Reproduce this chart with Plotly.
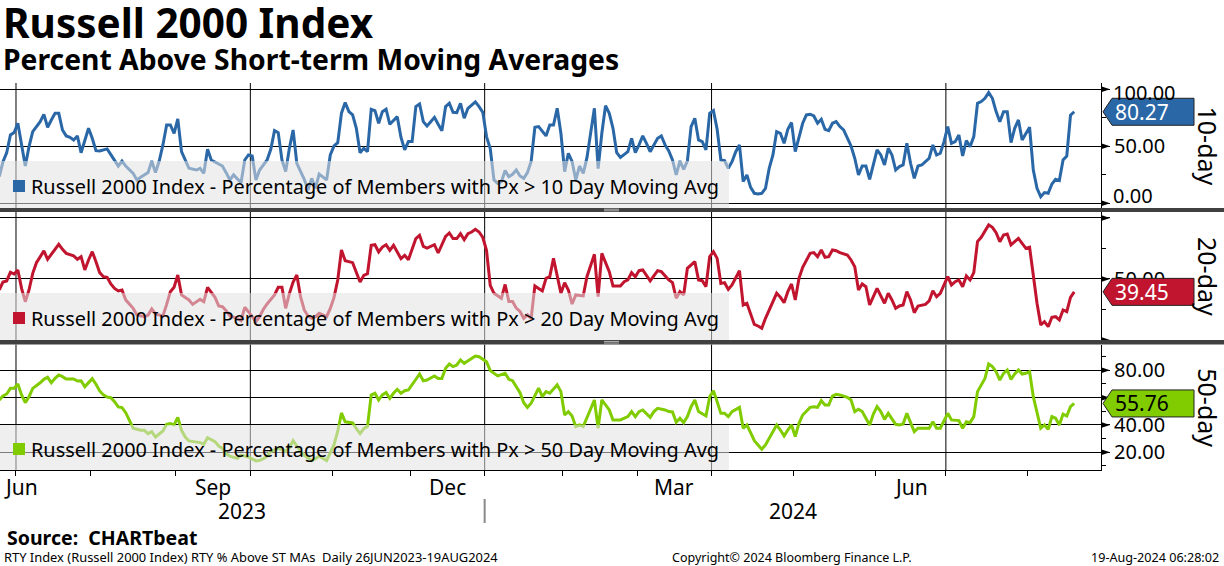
import pandas as pd
import plotly.graph_objects as go

# ---------------- data ----------------
HOLIDAYS = ["2023-07-04", "2023-09-04", "2023-11-23", "2023-12-25", "2024-01-01",
            "2024-01-15", "2024-02-19", "2024-03-29", "2024-05-27", "2024-06-19", "2024-07-04"]
sessions = pd.bdate_range("2023-06-26", "2024-08-30", freq="C", holidays=HOLIDAYS)

# trading-session number (0 = 26-Jun-2023) and percent of members above the MA
ma10_session = [0, 1, 2, 3, 4, 5, 7, 8, 9, 11, 12, 13, 14, 15, 16, 17, 18, 19, 20, 21, 22, 23, 24, 25, 26, 27, 29, 30, 31, 32, 33, 34, 36, 37, 38, 39, 40, 41, 42, 43, 44, 45, 46, 47, 48, 49, 50, 51, 53, 54, 55, 56, 57, 59, 60, 61, 62, 63, 65, 66, 67, 68, 69, 70, 72, 73, 74, 75, 76, 77, 78, 79, 80, 82, 83, 84, 85, 86, 88, 89, 90, 91, 92, 93, 94, 95, 96, 97, 98, 99, 100, 101, 102, 103, 104, 105, 106, 107, 108, 109, 110, 111, 112, 113, 114, 115, 116, 117, 118, 119, 120, 121, 122, 123, 124, 125, 126, 127, 128, 129, 130, 131, 132, 133, 134, 135, 136, 137, 138, 139, 140, 141, 142, 143, 144, 145, 147, 148, 149, 150, 151, 152, 153, 154, 155, 156, 157, 158, 159, 160, 161, 162, 163, 164, 165, 166, 167, 168, 169, 170, 171, 172, 173, 174, 175, 176, 177, 178, 179, 180, 181, 182, 183, 184, 185, 186, 187, 188, 189, 190, 191, 192, 193, 194, 195, 196, 197, 198, 199, 200, 201, 202, 203, 204, 205, 206, 207, 208, 209, 210, 211, 212, 213, 214, 215, 216, 217, 218, 219, 220, 221, 222, 223, 224, 225, 226, 227, 228, 229, 230, 231, 232, 233, 234, 235, 236, 237, 238, 239, 240, 241, 242, 243, 244, 245, 246, 247, 248, 249, 250, 251, 252, 253, 254, 255, 256, 257, 258, 259, 260, 261, 262, 263, 264, 265, 266, 267, 268, 269, 270, 271, 272, 273, 274, 275, 276, 277, 278, 279, 280, 281, 282, 283, 284, 285, 286, 287, 288, 289]
ma10_pct = [23.4, 36.5, 44.4, 59.9, 62.0, 70.2, 32.7, 49.7, 62.9, 71.6, 78.0, 66.7, 73.1, 78.9, 78.9, 64.3, 59.1, 57.9, 55.6, 59.1, 44.4, 54.1, 65.8, 57.0, 46.2, 45.9, 47.7, 42.7, 37.7, 32.7, 37.1, 32.7, 26.3, 20.5, 22.8, 24.9, 26.9, 37.1, 26.9, 37.1, 51.2, 68.7, 68.7, 61.4, 74.0, 45.3, 38.0, 30.7, 29.2, 30.7, 26.3, 47.4, 38.0, 34.5, 32.7, 26.9, 20.5, 24.9, 18.1, 38.0, 42.4, 41.5, 20.5, 29.2, 38.0, 47.4, 63.7, 61.9, 38.0, 27.8, 48.2, 64.3, 35.1, 21.0, 11.7, 21.9, 13.2, 25.7, 20.5, 42.4, 50.3, 53.2, 79.0, 88.3, 80.4, 77.5, 65.8, 44.4, 48.2, 45.3, 82.5, 81.3, 70.2, 80.4, 82.5, 69.3, 73.1, 76.0, 57.9, 46.8, 54.1, 54.1, 84.8, 87.1, 71.6, 67.8, 71.6, 75.4, 69.3, 63.7, 84.8, 87.7, 79.8, 79.5, 87.7, 74.6, 83.3, 86.3, 88.9, 84.8, 79.8, 58.5, 48.0, 20.5, 17.5, 19.0, 28.7, 23.4, 25.4, 29.2, 24.0, 21.9, 26.9, 36.8, 66.7, 67.3, 59.1, 68.7, 68.7, 83.3, 61.4, 27.8, 43.9, 36.8, 20.5, 32.7, 26.3, 40.0, 62.9, 83.3, 30.4, 61.4, 85.7, 78.9, 65.8, 44.4, 40.2, 42.4, 45.3, 57.0, 44.4, 51.2, 59.1, 52.6, 45.3, 51.2, 57.0, 59.1, 51.2, 45.9, 38.0, 24.9, 37.1, 29.8, 37.1, 67.3, 74.6, 55.6, 54.1, 46.8, 78.9, 81.3, 64.9, 38.0, 37.4, 30.7, 36.5, 45.3, 51.2, 19.0, 24.9, 14.0, 8.8, 8.2, 8.8, 13.2, 30.7, 42.4, 62.9, 61.4, 52.6, 64.9, 70.8, 45.3, 58.5, 70.2, 77.5, 78.1, 76.6, 70.2, 73.7, 64.9, 63.7, 70.2, 71.6, 67.3, 64.3, 57.0, 50.3, 39.5, 24.9, 32.7, 32.7, 21.0, 33.6, 46.8, 42.4, 33.6, 48.2, 42.4, 29.2, 32.2, 33.6, 52.6, 35.1, 21.9, 32.7, 33.6, 36.5, 39.5, 51.2, 42.4, 43.9, 54.1, 67.3, 52.6, 54.1, 59.9, 41.5, 55.0, 49.7, 58.5, 87.7, 89.2, 92.1, 97.1, 92.1, 80.4, 71.6, 80.4, 80.4, 53.2, 65.8, 73.1, 55.6, 60.8, 66.7, 29.2, 13.2, 5.8, 9.4, 8.8, 16.9, 21.0, 19.9, 38.0, 41.5, 77.2, 80.27]

ma20_session = [0, 1, 2, 3, 4, 5, 6, 7, 8, 9, 10, 12, 13, 15, 16, 17, 18, 20, 21, 22, 23, 24, 25, 26, 27, 28, 29, 30, 31, 32, 33, 34, 36, 37, 38, 39, 40, 41, 42, 44, 45, 46, 47, 48, 49, 51, 52, 53, 54, 55, 56, 58, 59, 60, 61, 62, 64, 65, 66, 67, 69, 70, 71, 72, 74, 75, 76, 77, 78, 79, 80, 81, 82, 83, 84, 85, 86, 88, 89, 90, 91, 92, 93, 95, 96, 97, 98, 99, 100, 101, 102, 103, 104, 105, 106, 107, 108, 109, 110, 112, 113, 114, 115, 117, 118, 120, 121, 122, 123, 124, 125, 126, 127, 128, 129, 130, 131, 132, 133, 135, 136, 137, 138, 139, 140, 141, 142, 143, 144, 145, 146, 147, 148, 149, 151, 152, 153, 154, 155, 157, 158, 160, 161, 162, 164, 165, 167, 168, 169, 170, 171, 172, 173, 175, 177, 178, 179, 180, 181, 182, 183, 184, 185, 187, 188, 189, 190, 191, 192, 193, 194, 195, 196, 197, 199, 200, 201, 202, 203, 204, 205, 206, 207, 209, 210, 211, 212, 213, 214, 215, 216, 218, 219, 220, 221, 222, 223, 224, 225, 226, 228, 229, 230, 231, 232, 233, 234, 235, 236, 237, 238, 239, 240, 241, 242, 243, 244, 245, 246, 247, 249, 250, 251, 252, 253, 254, 255, 256, 257, 258, 259, 260, 261, 262, 263, 264, 265, 266, 267, 268, 269, 270, 271, 272, 273, 274, 275, 276, 277, 278, 279, 280, 281, 282, 283, 284, 285, 286, 287, 288, 289]
ma20_pct = [41.0, 47.5, 48.4, 55.5, 54.1, 57.4, 42.3, 31.4, 41.0, 54.6, 63.4, 73.0, 66.1, 73.8, 78.4, 74.3, 71.0, 68.9, 66.1, 68.3, 57.4, 65.6, 72.4, 64.2, 55.2, 51.9, 51.4, 45.9, 42.3, 40.2, 41.0, 32.9, 26.0, 20.5, 19.7, 19.1, 20.5, 25.4, 21.4, 19.7, 29.2, 39.6, 43.3, 53.3, 36.9, 32.8, 29.2, 31.4, 33.3, 31.4, 43.2, 35.0, 27.9, 27.3, 24.0, 19.7, 17.8, 15.8, 26.8, 23.2, 15.0, 19.1, 25.1, 29.5, 36.9, 43.2, 43.2, 26.0, 38.0, 47.5, 53.3, 35.5, 24.6, 19.7, 17.8, 19.1, 21.9, 19.1, 25.9, 34.9, 49.2, 73.8, 65.0, 63.4, 54.6, 47.5, 53.0, 54.4, 77.6, 78.1, 72.1, 76.2, 78.1, 73.5, 77.6, 72.1, 66.7, 69.4, 65.8, 83.1, 85.8, 76.8, 75.4, 78.1, 71.3, 84.9, 87.7, 83.1, 83.1, 87.2, 82.2, 87.2, 88.5, 90.7, 88.5, 84.0, 73.5, 44.8, 38.3, 34.2, 45.5, 31.6, 31.6, 26.1, 23.4, 17.8, 20.6, 17.8, 44.3, 42.3, 40.2, 50.5, 51.9, 66.9, 38.3, 47.0, 41.0, 29.5, 36.9, 36.1, 51.9, 70.2, 35.5, 71.0, 56.0, 44.3, 44.3, 47.8, 49.2, 55.2, 51.9, 56.8, 57.4, 48.4, 56.8, 56.0, 52.5, 49.2, 47.0, 34.2, 39.6, 36.9, 58.7, 64.2, 49.2, 48.6, 43.7, 68.3, 72.4, 66.9, 46.4, 47.0, 41.5, 45.1, 56.8, 28.7, 30.1, 20.5, 12.8, 11.5, 9.6, 17.8, 24.6, 38.3, 35.0, 30.6, 39.6, 45.9, 32.8, 50.5, 59.6, 71.0, 71.6, 68.3, 73.8, 67.8, 68.3, 73.8, 73.2, 71.6, 69.7, 65.6, 60.1, 41.0, 45.9, 43.7, 28.7, 35.5, 42.3, 36.1, 30.1, 38.3, 32.8, 26.0, 27.9, 28.7, 39.6, 32.8, 22.4, 27.9, 29.2, 32.0, 40.4, 35.5, 38.3, 45.1, 51.9, 45.1, 47.8, 49.2, 43.7, 52.5, 49.2, 55.2, 80.6, 84.2, 88.8, 94.3, 92.3, 88.0, 80.6, 86.1, 86.9, 77.9, 80.6, 83.3, 79.2, 75.1, 76.0, 51.9, 30.1, 12.3, 15.0, 10.9, 18.6, 19.1, 16.4, 24.6, 23.2, 35.0, 39.45]

ma50_session = [0, 1, 2, 3, 4, 5, 6, 7, 8, 9, 11, 12, 13, 14, 15, 16, 17, 18, 20, 21, 22, 23, 24, 25, 26, 27, 28, 29, 30, 31, 32, 33, 34, 35, 36, 38, 39, 40, 41, 42, 43, 44, 45, 46, 47, 48, 49, 50, 51, 52, 54, 55, 56, 58, 59, 60, 61, 62, 63, 64, 65, 66, 67, 69, 70, 71, 72, 73, 75, 76, 77, 78, 79, 81, 82, 83, 84, 85, 86, 88, 89, 90, 91, 92, 93, 95, 96, 97, 98, 99, 100, 101, 102, 103, 104, 105, 106, 107, 108, 109, 110, 112, 113, 114, 115, 117, 118, 119, 120, 121, 122, 123, 124, 125, 126, 127, 128, 129, 130, 131, 132, 133, 134, 136, 137, 138, 139, 140, 141, 142, 143, 144, 145, 146, 147, 148, 150, 151, 152, 153, 154, 155, 156, 157, 158, 160, 161, 162, 164, 165, 167, 168, 169, 170, 171, 172, 173, 175, 176, 177, 179, 180, 181, 182, 183, 184, 185, 186, 187, 188, 189, 190, 191, 192, 193, 194, 195, 196, 197, 199, 200, 201, 202, 203, 204, 205, 206, 207, 209, 210, 211, 212, 213, 214, 215, 216, 218, 219, 220, 221, 222, 223, 224, 225, 226, 228, 229, 230, 231, 232, 234, 235, 236, 237, 238, 239, 240, 241, 242, 243, 244, 245, 246, 247, 249, 250, 251, 252, 253, 254, 255, 256, 257, 258, 259, 260, 261, 262, 263, 264, 265, 266, 267, 268, 269, 270, 271, 272, 273, 274, 275, 276, 277, 278, 280, 281, 282, 283, 284, 285, 286, 287, 288, 289]
ma50_pct = [58.3, 61.2, 62.7, 66.8, 66.8, 70.0, 62.0, 56.3, 60.7, 66.8, 70.9, 73.4, 74.9, 70.9, 74.1, 76.6, 75.4, 73.7, 73.7, 72.2, 72.4, 68.0, 71.0, 73.9, 69.8, 64.9, 62.0, 60.5, 60.0, 57.1, 53.2, 52.7, 49.0, 43.4, 37.6, 36.1, 36.1, 33.7, 35.1, 31.2, 33.2, 35.6, 40.5, 41.0, 40.0, 45.6, 36.1, 31.2, 28.3, 27.8, 27.1, 25.9, 30.7, 27.8, 24.6, 22.9, 18.9, 17.2, 16.5, 15.6, 18.0, 17.3, 16.6, 13.7, 14.1, 15.4, 17.1, 20.7, 22.7, 22.0, 20.7, 23.2, 28.5, 20.7, 17.8, 15.9, 13.9, 15.4, 17.1, 13.9, 19.5, 25.6, 35.4, 48.8, 42.3, 41.5, 37.3, 33.7, 37.3, 39.0, 62.0, 63.2, 58.3, 62.0, 63.7, 59.5, 63.2, 66.1, 63.2, 65.1, 65.6, 73.9, 77.3, 72.4, 72.9, 75.9, 74.1, 74.1, 81.5, 84.6, 82.7, 83.9, 87.6, 85.1, 87.1, 88.8, 90.5, 90.0, 88.3, 86.3, 79.8, 77.8, 75.9, 77.8, 73.4, 72.4, 68.5, 63.7, 56.3, 52.9, 55.9, 62.0, 67.0, 60.7, 64.4, 63.2, 69.3, 64.4, 47.3, 49.8, 46.6, 38.8, 40.0, 38.8, 44.9, 58.3, 37.6, 58.3, 51.0, 43.7, 43.7, 44.9, 46.1, 49.8, 46.1, 49.8, 51.0, 45.6, 49.8, 52.2, 51.0, 49.8, 49.5, 42.0, 44.9, 41.7, 46.1, 53.4, 58.3, 49.8, 48.5, 46.6, 60.7, 65.1, 57.1, 48.5, 48.5, 46.1, 49.8, 52.9, 37.6, 40.0, 34.4, 28.5, 25.4, 22.2, 25.4, 30.2, 40.0, 36.3, 32.0, 36.3, 40.0, 31.5, 41.2, 47.3, 52.9, 53.4, 52.9, 57.8, 54.6, 54.6, 61.2, 62.4, 62.0, 60.2, 58.3, 49.8, 51.5, 49.8, 40.0, 48.0, 53.4, 49.8, 44.1, 48.5, 44.9, 40.5, 40.0, 40.7, 48.5, 42.4, 35.1, 37.6, 37.6, 37.6, 42.4, 37.6, 37.6, 43.7, 48.5, 43.7, 43.7, 43.2, 37.6, 42.4, 41.7, 46.1, 64.4, 69.3, 74.1, 84.6, 82.7, 79.0, 72.9, 77.8, 80.2, 73.4, 77.3, 80.2, 77.3, 77.8, 79.0, 60.7, 37.6, 40.0, 36.8, 46.1, 44.9, 40.0, 48.0, 46.6, 53.4, 55.76]

SERIES_NAMES = ["Russell 2000 Index - Percentage of Members with Px &gt; 10 Day Moving Avg",
                "Russell 2000 Index - Percentage of Members with Px &gt; 20 Day Moving Avg",
                "Russell 2000 Index - Percentage of Members with Px &gt; 50 Day Moving Avg"]
PANEL_LABELS = ["10-day", "20-day", "50-day"]
Y_TICKS = [[0, 50, 100], [0, 50, 100], [20, 40, 60, 80]]
Y_MINOR = [[25, 75], [25, 75], [10, 30, 50, 70, 90]]
LABELED_MONTHS = [(2023, 6), (2023, 9), (2023, 12), (2024, 3), (2024, 6)]
MONTH_TEXT = ["Jun", "Sep", "Dec", "Mar", "Jun"]
YEARS = [2023, 2024]

# ---------------- styling / geometry ----------------
FONT = "Noto Sans"
BLUE, RED, GREEN = "#2a67a7", "#c1152f", "#80cc00"
COLORS = [BLUE, RED, GREEN]
TAG_TEXT = ["white", "white", "black"]
W, H = 1224, 566
ML, MR, MT, MB = 0, 123, 83, 96
PW, PH = W - ML - MR, H - MT - MB


def px(x):
    return (x - ML) / PW


def py(y):
    return (H - MB - y) / PH


PANEL_PX = [(83, 208), (212, 340), (344.5, 470)]
Y_RANGES = [[-4.1, 105.5], [0, 104.9], [7.05, 98.9]]
LEGEND_BOX = [(161, 208), (293, 340), (425, 470)]
LEGEND_MID = [186, 318, 449]


def at_session(f):
    k = int(f)
    return sessions[k] + pd.Timedelta(days=f - k)


x_start, x_end = 0.2, 296.2
x_range = [at_session(x_start), at_session(x_end)]
month_bounds, quarter_bounds = [], []
for k in range(len(sessions) - 1):
    if sessions[k].month != sessions[k + 1].month and k + 0.5 < x_end:
        b = sessions[k] + pd.Timedelta(hours=12)
        month_bounds.append(b)
        if sessions[k + 1].month in (1, 4, 7, 10):
            quarter_bounds.append((k + 0.5, b))

rangebreaks = [dict(bounds=["sat", "mon"]), dict(values=HOLIDAYS)]

fig = go.Figure()
series = [(ma10_session, ma10_pct), (ma20_session, ma20_pct), (ma50_session, ma50_pct)]
for n, (ses, vals) in enumerate(series):
    ax = "" if n == 0 else str(n + 1)
    fig.add_trace(go.Scatter(x=[sessions[s] for s in ses], y=vals, mode="lines",
                             line=dict(color=COLORS[n], width=3), xaxis="x" + ax, yaxis="y" + ax,
                             hoverinfo="skip", showlegend=False))

layout = dict(width=W, height=H, margin=dict(l=ML, r=MR, t=MT, b=MB),
              paper_bgcolor="white", plot_bgcolor="white", showlegend=False,
              hovermode=False, font=dict(family=FONT, color="black"))
for n in range(3):
    ax = "" if n == 0 else str(n + 1)
    top, bot = PANEL_PX[n]
    layout["xaxis" + ax] = dict(domain=[0, 1], anchor="y" + ax, type="date", range=x_range,
                                rangebreaks=rangebreaks, showgrid=False, zeroline=False,
                                showticklabels=False,
                                matches=None if n == 2 else "x3",
                                showline=(n == 2), linecolor="black", linewidth=1,
                                ticks="outside" if n == 2 else "", ticklen=5, tickcolor="black",
                                tickmode="array", tickvals=month_bounds)
    layout["yaxis" + ax] = dict(domain=[py(bot), py(top)], anchor="x" + ax, range=Y_RANGES[n],
                                side="right", showline=True, linecolor="black", linewidth=1,
                                ticks="outside", ticklen=8, tickcolor="black",
                                tickmode="array", tickvals=Y_TICKS[n],
                                ticktext=["" if (n < 2 and v != 50) else f"{v:.2f}" for v in Y_TICKS[n]],
                                tickfont=dict(size=20, family=FONT, color="black"),
                                showgrid=True, gridcolor="black", gridwidth=1, zeroline=False,
                                minor=dict(tickmode="array", tickvals=Y_MINOR[n], ticks="outside",
                                           ticklen=4, tickcolor="black", showgrid=False))
fig.update_layout(**layout)

shapes, annots = [], []
# vertical quarter gridlines
for n in range(3):
    ax = "" if n == 0 else str(n + 1)
    for _, b in quarter_bounds:
        shapes.append(dict(type="line", xref="x" + ax, yref="y" + ax + " domain", x0=b, x1=b,
                           y0=0, y1=1, line=dict(color="black", width=1), layer="below"))

for n in range(3):
    ax = "" if n == 0 else str(n + 1)
    # legend box (semi-transparent, over the line)
    t, b = LEGEND_BOX[n]
    shapes.append(dict(type="rect", xref="paper", yref="paper", x0=px(0), x1=px(729),
                       y0=py(b), y1=py(t), fillcolor="rgba(226,226,226,0.55)",
                       line=dict(width=0), layer="above"))
    m = LEGEND_MID[n]
    shapes.append(dict(type="rect", xref="paper", yref="paper", x0=px(13), x1=px(25),
                       y0=py(m + 6), y1=py(m - 6), fillcolor=COLORS[n], line=dict(width=0),
                       layer="above"))
    annots.append(dict(text=SERIES_NAMES[n], xref="paper", yref="paper", x=px(29), y=py(m),
                       xanchor="left", yanchor="middle", showarrow=False,
                       font=dict(size=19.9, family=FONT, color="black")))
    # tick arrows on the right axis
    for v in Y_TICKS[n]:
        shapes.append(dict(type="path", xref="paper", yref="y" + ax, xsizemode="pixel",
                           ysizemode="pixel", xanchor=1, yanchor=v, path="M 0,-3 L 9,0 L 0,3 Z",
                           fillcolor="black", line=dict(width=0), layer="above"))
    # last-value tag
    ses, vals = series[n]
    last = vals[-1]
    shapes.append(dict(type="path", xref="paper", yref="y" + ax, xsizemode="pixel",
                       ysizemode="pixel", xanchor=1, yanchor=last,
                       path="M 2,0 L 11,13.5 L 93,13.5 L 93,-13.5 L 11,-13.5 Z",
                       fillcolor=COLORS[n], line=dict(color="#222222", width=1), layer="above"))
    annots.append(dict(text=f"{last:.2f}", xref="paper", yref="y" + ax, x=1, y=last,
                       xanchor="left", yanchor="middle", xshift=12, showarrow=False,
                       font=dict(size=21, family=FONT, color=TAG_TEXT[n])))
    # panel label
    top, bot = PANEL_PX[n]
    annots.append(dict(text=PANEL_LABELS[n], xref="paper", yref="paper", x=px(1208),
                       y=py((top + bot) / 2), xanchor="center", yanchor="middle", textangle=90,
                       showarrow=False, font=dict(size=25, family=FONT, color="black")))

# edge tick labels of panel 1 (nudged inside the panel)
annots.append(dict(text="100.00", xref="paper", yref="y", x=1, y=100, xanchor="left",
                   yanchor="middle", xshift=10, yshift=-3, showarrow=False,
                   font=dict(size=20, family=FONT, color="black")))
annots.append(dict(text="0.00", xref="paper", yref="y", x=1, y=0, xanchor="left",
                   yanchor="middle", xshift=10, yshift=8, showarrow=False,
                   font=dict(size=20, family=FONT, color="black")))

# panel separators
for t, b in [(208, 212), (340, 344.5)]:
    shapes.append(dict(type="rect", xref="paper", yref="paper", x0=px(0), x1=px(W),
                       y0=py(b), y1=py(t), fillcolor="#404040", line=dict(width=0), layer="above"))
    c = (t + b) / 2
    for d in (-0.8, 0.8):
        shapes.append(dict(type="line", xref="paper", yref="paper", x0=px(604), x1=px(619),
                           y0=py(c + d), y1=py(c + d), line=dict(color="#b0b0b0", width=1),
                           layer="above"))

# month labels
for i, ((yr, mo), txt) in enumerate(zip(LABELED_MONTHS, MONTH_TEXT)):
    idx = [k for k, s in enumerate(sessions) if s.year == yr and s.month == mo]
    if i == 0:
        annots.append(dict(text=txt, xref="paper", yref="paper", x=px(2), y=py(487),
                           xanchor="left", yanchor="middle", showarrow=False,
                           font=dict(size=21, family=FONT)))
    else:
        mid = (idx[0] + idx[-1]) / 2
        annots.append(dict(text=txt, xref="x3", yref="paper", x=at_session(mid), y=py(487),
                           xanchor="center", yanchor="middle", showarrow=False,
                           font=dict(size=21, family=FONT)))
# year labels centred on the visible part of each year
jan = [q for q, b in quarter_bounds if sessions[int(q) + 1].month == 1][0]
for yr, (a, b) in zip(YEARS, [(x_start, jan), (jan, x_end)]):
    annots.append(dict(text=str(yr), xref="x3", yref="paper", x=at_session((a + b) / 2),
                       y=py(511), xanchor="center", yanchor="middle", showarrow=False,
                       font=dict(size=21, family=FONT)))
shapes.append(dict(type="line", xref="x3", yref="paper", x0=at_session(jan), x1=at_session(jan),
                   y0=py(499), y1=py(523), line=dict(color="#8a8a8a", width=2)))

# titles & footer
annots += [
    dict(text="<b>Russell 2000 Index</b>", xref="paper", yref="paper", x=px(1), y=py(23),
         xanchor="left", yanchor="middle", showarrow=False, font=dict(size=40.5, family=FONT)),
    dict(text="<b>Percent Above Short-term Moving Averages</b>", xref="paper", yref="paper",
         x=px(1), y=py(59), xanchor="left", yanchor="middle", showarrow=False,
         font=dict(size=28.3, family=FONT)),
    dict(text="<b>Source:  CHARTbeat</b>", xref="paper", yref="paper", x=px(5), y=py(537),
         xanchor="left", yanchor="middle", showarrow=False, font=dict(size=19.5, family=FONT)),
    dict(text="RTY Index (Russell 2000 Index) RTY % Above ST MAs  Daily 26JUN2023-19AUG2024",
         xref="paper", yref="paper", x=px(2), y=py(557), xanchor="left", yanchor="middle",
         showarrow=False, font=dict(size=12.9, family=FONT)),
    dict(text="Copyright© 2024 Bloomberg Finance L.P.", xref="paper", yref="paper", x=px(792),
         y=py(557), xanchor="center", yanchor="middle", showarrow=False,
         font=dict(size=12.5, family=FONT)),
    dict(text="19-Aug-2024 06:28:02", xref="paper", yref="paper", x=px(1221), y=py(557),
         xanchor="right", yanchor="middle", showarrow=False, font=dict(size=12.6, family=FONT)),
]

fig.update_layout(shapes=shapes, annotations=annots)
fig.write_html("out.html", config={"displayModeBar": False},
               post_script="document.body.style.margin='0px';document.body.style.overflow='hidden';")
